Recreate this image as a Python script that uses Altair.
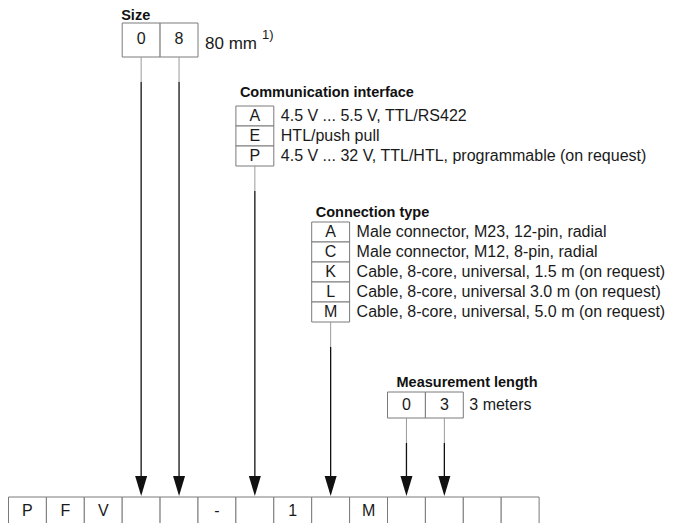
import altair as alt
import pandas as pd

# ---------------- data ----------------
type_code = ["P", "F", "V", "", "", "-", "", "1", "", "M", "", "", "", ""]

size_title = "Size"
size_codes = ["0", "8"]
size_desc = "80 mm"
size_note = "1)"

comm_title = "Communication interface"
comm_codes = ["A", "E", "P"]
comm_desc = ["4.5 V ... 5.5 V, TTL/RS422",
             "HTL/push pull",
             "4.5 V ... 32 V, TTL/HTL, programmable (on request)"]

conn_title = "Connection type"
conn_codes = ["A", "C", "K", "L", "M"]
conn_desc = ["Male connector, M23, 12-pin, radial",
             "Male connector, M12, 8-pin, radial",
             "Cable, 8-core, universal, 1.5 m (on request)",
             "Cable, 8-core, universal 3.0 m (on request)",
             "Cable, 8-core, universal, 5.0 m (on request)"]

meas_title = "Measurement length"
meas_codes = ["0", "3"]
meas_desc = "3 meters"

# ---------------- layout (page pixel coordinates) ----------------
X0, CW = 8.5, 37.9          # bottom row start and cell width
ROW_TOP = 497
TIP = 496
RH = 20                      # row height of option tables

def col_left(i):
    return X0 + i * CW

def col_mid(i):
    return X0 + (i + 0.5) * CW

cells, letters, descs, titles, grays, blacks, heads = [], [], [], [], [], [], []

# bottom row
for i, c in enumerate(type_code):
    cells.append(dict(x=col_left(i), x2=col_left(i + 1), y=ROW_TOP, y2=540))
    if c:
        letters.append(dict(x=col_mid(i), y=511, t=c))

def add_link(col, y_from):
    grays.append(dict(x=col_mid(col), y=y_from, y2=y_from + 25))
    blacks.append(dict(x=col_mid(col), y=y_from + 25, y2=TIP - 15))
    heads.append(dict(x=col_mid(col), y=TIP - 10))

# size group (columns 3,4)
sz_top, sz_bot = 23, 57
for k, c in enumerate(size_codes):
    col = 3 + k
    cells.append(dict(x=col_left(col), x2=col_left(col + 1), y=sz_top, y2=sz_bot))
    letters.append(dict(x=col_mid(col), y=39, t=c))
    add_link(col, sz_bot)
size_title_row = [dict(x=col_left(3) - 1, y=19.5, t=size_title)]
size_desc_row = [dict(x=col_left(5) + 7, y=44, t=size_desc)]
notes = [dict(x=col_left(5) + 64, y=35, t=size_note)]

# communication interface (column 6)
cm_top = 106
for k, (c, d) in enumerate(zip(comm_codes, comm_desc)):
    y0 = cm_top + k * RH
    cells.append(dict(x=col_left(6), x2=col_left(7), y=y0, y2=y0 + RH))
    letters.append(dict(x=col_mid(6), y=y0 + RH / 2, t=c))
    descs.append(dict(x=col_left(7) + 7, y=y0 + RH / 2, t=d))
titles.append(dict(x=col_left(6) + 4, y=93, t=comm_title))
add_link(6, cm_top + len(comm_codes) * RH)

# connection type (column 8)
cn_top = 222
for k, (c, d) in enumerate(zip(conn_codes, conn_desc)):
    y0 = cn_top + k * RH
    cells.append(dict(x=col_left(8), x2=col_left(9), y=y0, y2=y0 + RH))
    letters.append(dict(x=col_mid(8), y=y0 + RH / 2, t=c))
    descs.append(dict(x=col_left(9) + 7, y=y0 + RH / 2, t=d))
titles.append(dict(x=col_left(8) + 4, y=213, t=conn_title))
add_link(8, cn_top + len(conn_codes) * RH)

# measurement length (columns 10, 11)
ms_top, ms_bot = 392, 418
for k, c in enumerate(meas_codes):
    col = 10 + k
    cells.append(dict(x=col_left(col), x2=col_left(col + 1), y=ms_top, y2=ms_bot))
    letters.append(dict(x=col_mid(col), y=405, t=c))
    add_link(col, ms_bot)
titles.append(dict(x=col_left(10) + 9, y=383, t=meas_title))
descs.append(dict(x=col_left(12) + 6, y=405, t=meas_desc))

# ---------------- chart ----------------
W, H = 679, 523
xs = alt.Scale(domain=[8, 8 + W], nice=False, zero=False)
ys = alt.Scale(domain=[8 + H, 8], nice=False, zero=False)
X = lambda f="x": alt.X(f"{f}:Q", scale=xs, axis=None)
Y = lambda f="y": alt.Y(f"{f}:Q", scale=ys, axis=None)
FONT = "Liberation Sans"

rects = alt.Chart(pd.DataFrame(cells)).mark_rect(
    fill="white", stroke="#7a7a7a", strokeWidth=1
).encode(x=X(), x2="x2:Q", y=Y(), y2="y2:Q")

gray_lines = alt.Chart(pd.DataFrame(grays)).mark_rule(
    color="#9a9a9a", strokeWidth=1
).encode(x=X(), y=Y(), y2="y2:Q")

black_lines = alt.Chart(pd.DataFrame(blacks)).mark_rule(
    color="#111111", strokeWidth=1.3
).encode(x=X(), y=Y(), y2="y2:Q")

arrow_heads = alt.Chart(pd.DataFrame(heads)).mark_point(
    shape="M -0.6 -1 L 0.6 -1 L 0 1 Z", filled=True, size=400,
    color="#111111", opacity=1, strokeWidth=0
).encode(x=X(), y=Y())

letter_txt = alt.Chart(pd.DataFrame(letters)).mark_text(
    align="center", baseline="middle", font=FONT, fontSize=16, color="#1a1a1a"
).encode(x=X(), y=Y(), text="t:N")

desc_txt = alt.Chart(pd.DataFrame(descs)).mark_text(
    align="left", baseline="middle", font=FONT, fontSize=16, color="#1a1a1a"
).encode(x=X(), y=Y(), text="t:N")

size_desc_txt = alt.Chart(pd.DataFrame(size_desc_row)).mark_text(
    align="left", baseline="middle", font=FONT, fontSize=17, color="#1a1a1a"
).encode(x=X(), y=Y(), text="t:N")

title_txt = alt.Chart(pd.DataFrame(titles)).mark_text(
    align="left", baseline="middle", font=FONT, fontSize=14.5,
    fontWeight="bold", color="#111111"
).encode(x=X(), y=Y(), text="t:N")

size_title_txt = alt.Chart(pd.DataFrame(size_title_row)).mark_text(
    align="left", baseline="alphabetic", font=FONT, fontSize=14.5,
    fontWeight="bold", color="#111111"
).encode(x=X(), y=Y(), text="t:N")

note_txt = alt.Chart(pd.DataFrame(notes)).mark_text(
    align="left", baseline="middle", font=FONT, fontSize=13, color="#1a1a1a"
).encode(x=X(), y=Y(), text="t:N")

chart = alt.layer(
    rects, gray_lines, black_lines, arrow_heads,
    letter_txt, desc_txt, size_desc_txt, title_txt, size_title_txt, note_txt
).properties(
    width=W, height=H, autosize="none", padding=0, background="white"
).configure_view(stroke=None)

chart.save("out.html", embed_options={"renderer": "svg", "actions": False})
